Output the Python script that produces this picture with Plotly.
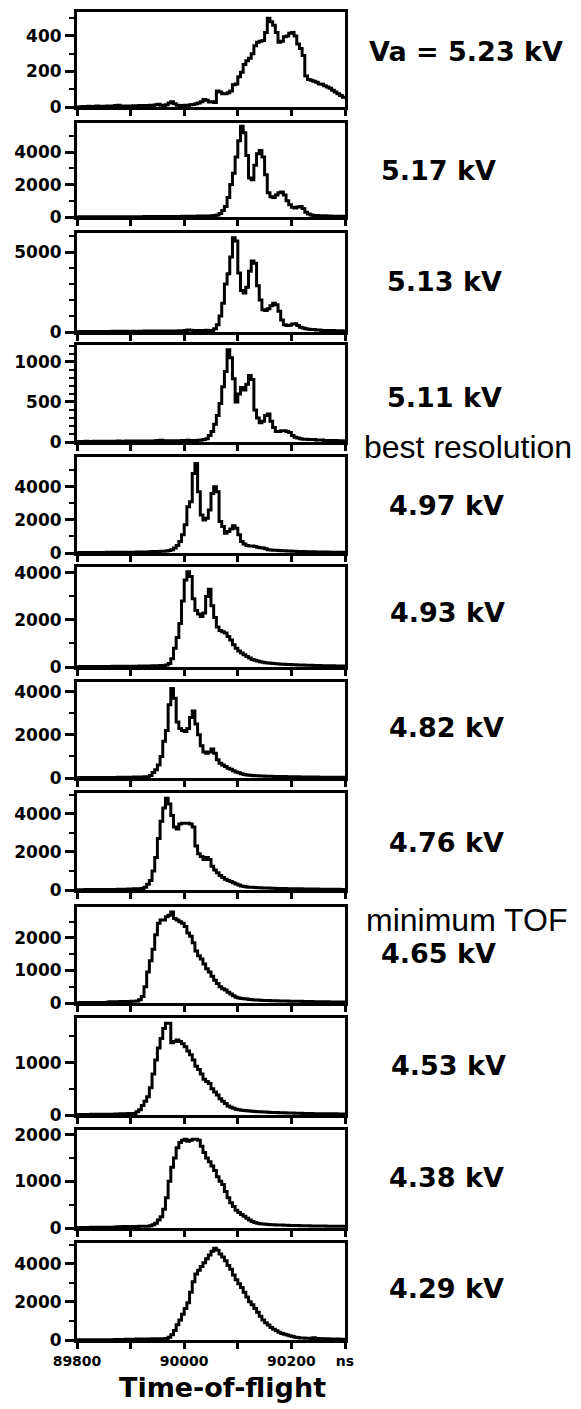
import plotly.graph_objects as go

# ---------------- data ----------------
t_start_ns = 89800
bin_ns = 5
n_bins = 101
time_ns = [t_start_ns + bin_ns * i for i in range(n_bins)]

labels = ["Va = 5.23 kV", "5.17 kV", "5.13 kV", "5.11 kV", "4.97 kV", "4.93 kV",
          "4.82 kV", "4.76 kV", "4.65 kV", "4.53 kV", "4.38 kV", "4.29 kV"]

c_523 = [0, 2, 3, 2, 4, 3, 2, 5, 4, 3,
         4, 5, 3, 6, 8, 10, 6, 4, 5, 6,
         5, 7, 6, 8, 7, 9, 8, 10, 9, 12,
         15, 10, 9, 12, 22, 30, 18, 10, 9, 8,
         10, 8, 12, 14, 18, 22, 30, 42, 38, 28,
         30, 25, 90, 85, 75, 75, 80, 90, 125, 130,
         170, 195, 240, 260, 275, 300, 345, 365, 370, 375,
         420, 500, 480, 460, 420, 365, 370, 395, 400, 415,
         420, 400, 355, 330, 290, 175, 155, 150, 145, 140,
         130, 128, 120, 112, 105, 95, 85, 75, 65, 55, 45]

c_517 = [5, 8, 6, 10, 8, 7, 10, 9, 12, 10,
         12, 10, 14, 12, 15, 13, 16, 14, 18, 15,
         18, 20, 17, 22, 20, 24, 22, 26, 24, 28,
         26, 30, 28, 32, 30, 35, 32, 38, 35, 40,
         42, 45, 40, 48, 50, 55, 52, 60, 58, 62,
         70, 90, 130, 220, 400, 650, 1200, 2000, 2700, 3700,
         4700, 5600, 5200, 3800, 2400, 2300, 3200, 3900, 4100, 3700,
         2600, 1500, 1250, 1200, 1350, 1500, 1550, 1350, 1000, 750,
         600, 550, 620, 650, 520, 300, 180, 130, 100, 90,
         80, 70, 70, 60, 60, 50, 50, 40, 40, 40, 30]

c_513 = [20, 25, 20, 30, 25, 30, 28, 35, 30, 35,
         32, 38, 35, 40, 38, 42, 40, 45, 42, 48,
         45, 50, 48, 52, 50, 55, 52, 58, 55, 60,
         58, 62, 60, 65, 62, 68, 65, 70, 72, 80,
         90, 120, 110, 100, 95, 90, 95, 100, 110, 100,
         100, 200, 450, 1000, 1800, 3000, 3650, 4700, 5900, 5700,
         3700, 2600, 2450, 2800, 3800, 4450, 4300, 2900, 2000, 1400,
         1350, 1450, 1650, 1800, 1700, 1300, 750, 450, 400, 420,
         500, 520, 400, 300, 250, 200, 180, 150, 150, 120,
         120, 100, 100, 100, 90, 90, 80, 80, 80, 70, 70]

c_511 = [5, 6, 5, 8, 6, 7, 8, 6, 9, 8,
         8, 10, 9, 8, 10, 11, 9, 10, 12, 10,
         11, 12, 10, 12, 13, 11, 12, 14, 12, 15,
         18, 22, 16, 14, 15, 16, 14, 15, 16, 18,
         20, 22, 20, 18, 20, 22, 25, 30, 40, 80,
         130, 220, 330, 480, 690, 880, 1150, 1050, 790, 500,
         600, 680, 650, 720, 830, 780, 400, 300, 240, 260,
         330, 350, 260, 180, 130, 130, 140, 140, 130, 120,
         80, 60, 50, 40, 35, 35, 30, 30, 30, 25,
         25, 25, 20, 20, 20, 20, 20, 15, 15, 15, 15]

c_497 = [20, 25, 22, 28, 25, 30, 28, 32, 30, 35,
         32, 38, 35, 40, 38, 42, 40, 45, 42, 48,
         45, 50, 55, 52, 58, 60, 65, 80, 85, 90,
         95, 100, 110, 120, 150, 200, 300, 450, 700, 1100,
         1700, 2800, 3100, 4800, 5400, 3700, 2300, 2000, 2100, 2600,
         3600, 4000, 3700, 1900, 1600, 1200, 1300, 1450, 1650, 1500,
         1100, 700, 550, 450, 420, 420, 400, 350, 320, 300,
         250, 200, 180, 170, 160, 150, 140, 130, 120, 115,
         110, 100, 95, 90, 85, 80, 75, 70, 68, 65,
         62, 60, 58, 55, 52, 50, 48, 45, 42, 40, 40]

c_493 = [15, 18, 16, 20, 18, 22, 20, 24, 22, 25,
         24, 26, 25, 28, 26, 30, 28, 32, 30, 34,
         32, 35, 36, 38, 40, 42, 44, 46, 48, 50,
         55, 60, 65, 80, 150, 350, 800, 1250, 1850, 2800,
         3700, 4050, 3850, 2900, 2400, 2250, 2150, 2300, 3000, 3300,
         2600, 2100, 1700, 1550, 1500, 1450, 1300, 1150, 950, 800,
         680, 600, 520, 450, 380, 320, 290, 260, 220, 200,
         180, 170, 160, 150, 140, 130, 120, 115, 110, 105,
         100, 95, 90, 85, 80, 75, 72, 70, 66, 62,
         60, 58, 55, 52, 50, 48, 46, 44, 42, 40, 40]

c_482 = [15, 18, 16, 20, 18, 22, 20, 24, 22, 25,
         24, 26, 25, 28, 26, 30, 28, 32, 35, 38,
         40, 42, 45, 48, 50, 55, 60, 120, 250, 380,
         600, 1000, 1700, 2200, 3400, 4150, 3700, 2600, 2300, 2200,
         2150, 2300, 2800, 3100, 2500, 2000, 1500, 1200, 1150, 1200,
         1350, 1150, 850, 680, 600, 530, 450, 400, 340, 280,
         240, 200, 160, 140, 130, 120, 110, 100, 95, 90,
         85, 80, 78, 75, 72, 70, 68, 65, 62, 60,
         58, 56, 55, 52, 50, 48, 46, 45, 44, 42,
         40, 40, 38, 36, 35, 34, 32, 32, 30, 30, 30]

c_476 = [15, 18, 16, 20, 18, 22, 20, 24, 22, 25,
         24, 26, 28, 30, 32, 34, 36, 40, 45, 50,
         55, 60, 65, 70, 80, 150, 300, 500, 1000, 1700,
         2700, 3600, 4300, 4800, 4500, 3900, 3300, 3200, 3450, 3500,
         3500, 3500, 3450, 3300, 2300, 1900, 1750, 1600, 1700, 1600,
         1250, 1050, 900, 760, 650, 560, 500, 440, 380, 320,
         260, 210, 180, 160, 150, 140, 130, 120, 115, 110,
         105, 100, 95, 90, 85, 80, 78, 75, 72, 70,
         68, 65, 62, 60, 58, 55, 52, 50, 48, 46,
         45, 44, 42, 40, 38, 36, 35, 34, 32, 30, 30]

c_465 = [10, 12, 11, 14, 12, 15, 14, 16, 15, 18,
         16, 20, 40, 38, 42, 40, 44, 42, 46, 45,
         50, 55, 60, 100, 200, 500, 950, 1300, 1650, 2100,
         2450, 2550, 2550, 2650, 2700, 2800, 2600, 2550, 2500, 2450,
         2350, 2150, 2050, 1850, 1600, 1450, 1350, 1200, 1050, 950,
         820, 700, 600, 500, 440, 400, 330, 280, 220, 180,
         150, 140, 130, 120, 110, 100, 95, 90, 85, 80,
         78, 75, 72, 70, 68, 65, 62, 60, 58, 56,
         55, 54, 52, 50, 48, 46, 45, 44, 42, 40,
         40, 38, 36, 35, 34, 32, 32, 30, 30, 30, 30]

c_453 = [8, 10, 9, 11, 10, 12, 11, 13, 12, 14,
         13, 15, 14, 16, 18, 20, 22, 24, 26, 28,
         30, 30, 60, 100, 180, 260, 350, 520, 780, 1050,
         1280, 1460, 1650, 1750, 1750, 1380, 1400, 1430, 1400, 1360,
         1300, 1220, 1150, 1050, 930, 870, 780, 680, 640, 600,
         500, 440, 380, 310, 260, 220, 170, 150, 130, 110,
         100, 90, 85, 80, 75, 70, 66, 62, 60, 58,
         55, 52, 50, 48, 46, 45, 44, 42, 40, 38,
         36, 35, 34, 32, 30, 30, 28, 28, 26, 26,
         25, 25, 24, 24, 22, 22, 22, 20, 20, 20, 20]

c_438 = [10, 12, 11, 13, 12, 14, 13, 15, 14, 16,
         15, 17, 16, 18, 20, 25, 28, 30, 30, 32,
         32, 34, 34, 36, 36, 38, 40, 50, 70, 100,
         170, 240, 400, 650, 1000, 1300, 1500, 1720, 1830, 1880,
         1900, 1860, 1880, 1900, 1900, 1880, 1750, 1620, 1500, 1420,
         1330, 1230, 1100, 1000, 930, 780, 650, 540, 460, 380,
         330, 290, 250, 210, 170, 140, 120, 100, 90, 85,
         80, 75, 72, 70, 66, 64, 62, 60, 58, 56,
         55, 54, 52, 50, 48, 47, 46, 45, 44, 43,
         42, 42, 41, 40, 40, 39, 38, 38, 37, 36, 35]

c_429 = [10, 12, 11, 13, 12, 14, 13, 15, 14, 16,
         15, 17, 16, 18, 20, 22, 24, 30, 35, 40,
         42, 45, 48, 50, 52, 55, 55, 58, 60, 62,
         65, 68, 72, 80, 150, 280, 500, 800, 1050, 1350,
         1650, 1950, 2500, 3050, 3450, 3650, 3850, 4050, 4250, 4450,
         4650, 4800, 4700, 4500, 4350, 4150, 3900, 3700, 3400, 3150,
         2950, 2750, 2500, 2250, 2000, 1850, 1650, 1450, 1250, 1050,
         900, 780, 650, 560, 480, 400, 340, 300, 260, 220,
         180, 150, 130, 110, 100, 90, 90, 80, 120, 85,
         75, 70, 65, 60, 55, 52, 50, 48, 45, 42, 40]

counts = [c_523, c_517, c_513, c_511, c_497, c_493,
          c_482, c_476, c_465, c_453, c_438, c_429]

y_max = [535, 5800, 6200, 1210, 5800, 4250, 4450, 5080, 2950, 1850, 2100, 5080]
y_major = [200, 2000, 5000, 500, 2000, 2000, 2000, 2000, 1000, 1000, 1000, 2000]
y_minor = [100, 1000, 1000, 100, 1000, 1000, 1000, 1000, 500, 500, 500, 1000]

x_tickvals = [89800, 89900, 90000, 90100, 90200, 90300]
x_ticktext = ["89800", "", "90000", "", "90200", "ns"]

# ---------------- layout (pixels) ----------------
W, H = 581, 1409
panel_top = [12, 123, 233, 345, 457, 567, 682, 793, 907, 1018, 1130, 1243]
panel_bot = [107, 217, 332, 442, 553, 667, 778, 890, 1003, 1115, 1228, 1340]
plot_left, plot_right = 77, 345

label_x = [466, 438, 444, 444, 446, 447, 446, 446, 438, 448, 446, 446]
label_y = [51, 170, 282, 397, 505, 612, 727, 842, 953, 1065, 1177, 1288]

fig = go.Figure()
bold = dict(family="DejaVu Sans", color="black", weight="bold")

layout = dict(width=W, height=H, margin=dict(l=0, r=0, t=0, b=0, autoexpand=False),
              paper_bgcolor="white", plot_bgcolor="white", showlegend=False)

for k in range(12):
    sx = "" if k == 0 else str(k + 1)
    fig.add_trace(go.Scatter(x=time_ns, y=counts[k], mode="lines",
                             line=dict(color="black", width=3, shape="hv"),
                             xaxis="x" + sx, yaxis="y" + sx, hoverinfo="skip"))
    last = (k == 11)
    layout["xaxis" + sx] = dict(
        domain=[plot_left / W, plot_right / W], range=[89800, 90300],
        anchor="y" + sx, showline=True, mirror=True, linewidth=3, linecolor="black",
        ticks="outside", ticklen=6, tickwidth=2.5, tickcolor="black",
        tickmode="array", tickvals=x_tickvals, ticktext=x_ticktext,
        showticklabels=last, tickfont=dict(size=14, **bold), automargin=False,
        showgrid=False, zeroline=False)
    layout["yaxis" + sx] = dict(
        domain=[1 - panel_bot[k] / H, 1 - panel_top[k] / H], range=[0, y_max[k]],
        anchor="x" + sx, showline=True, mirror=True, linewidth=3, linecolor="black",
        ticks="outside", ticklen=9, tickwidth=2.5, tickcolor="black",
        tick0=0, dtick=y_major[k], tickfont=dict(size=17, **bold), automargin=False,
        minor=dict(dtick=y_minor[k], tick0=0, ticks="outside", ticklen=5,
                   tickwidth=2, tickcolor="black", showgrid=False),
        showgrid=False, zeroline=False)

annotations = []
for k in range(12):
    annotations.append(dict(text=labels[k], x=label_x[k] / W, y=1 - label_y[k] / H,
                            xref="paper", yref="paper", xanchor="center", yanchor="middle",
                            showarrow=False, font=dict(size=27, **bold)))
annotations.append(dict(text="best resolution", x=468 / W, y=1 - 447 / H,
                        xref="paper", yref="paper", xanchor="center", yanchor="middle",
                        showarrow=False,
                        font=dict(size=32, family="Liberation Sans", color="black")))
annotations.append(dict(text="minimum TOF", x=467 / W, y=1 - 920 / H,
                        xref="paper", yref="paper", xanchor="center", yanchor="middle",
                        showarrow=False,
                        font=dict(size=32, family="Liberation Sans", color="black")))
annotations.append(dict(text="Time-of-flight", x=222 / W, y=1 - 1387 / H,
                        xref="paper", yref="paper", xanchor="center", yanchor="middle",
                        showarrow=False, font=dict(size=27, **bold)))
layout["annotations"] = annotations
fig.update_layout(**layout)

fig.write_html("out.html")
